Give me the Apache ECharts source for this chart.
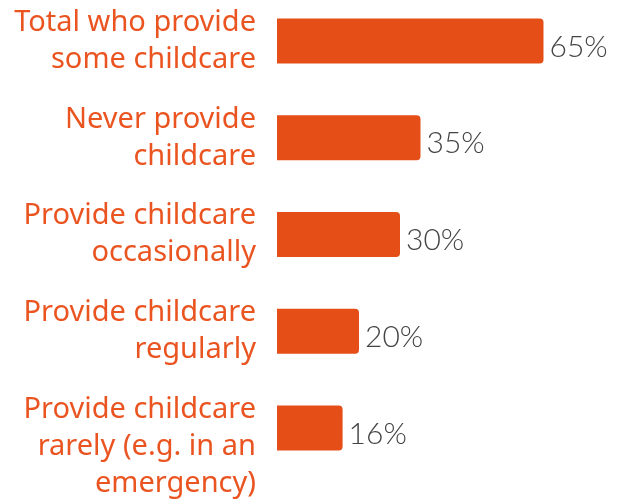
<!DOCTYPE html>
<html>
<head>
<meta charset="utf-8">
<script src="https://cdn.jsdelivr.net/npm/echarts@6/dist/echarts.min.js"></script>
<style>
html,body{margin:0;padding:0;background:#fff;}
#chart{width:621px;height:502px;}
</style>
</head>
<body>
<div id="chart"></div>
<script>
const categories = [
  'Total who provide\nsome childcare',
  'Never provide\nchildcare',
  'Provide childcare\noccasionally',
  'Provide childcare\nregularly',
  'Provide childcare\nrarely (e.g. in an\nemergency)'
];
const values = [65, 35, 30, 20, 16];

const chart = echarts.init(document.getElementById('chart'));
chart.setOption({
  animation: false,
  grid: { left: 277, right: 16, top: 41, bottom: 73, containLabel: false },
  xAxis: {
    type: 'value', min: 0, max: 80, show: false
  },
  yAxis: {
    type: 'category', inverse: true, boundaryGap: false,
    data: categories,
    axisLine: { show: false }, axisTick: { show: false }, splitLine: { show: false },
    axisLabel: {
      interval: 0, hideOverlap: false,
      formatter: (v, i) => (v.split('\n').length > 2 ? '\n' + v : v),
      margin: 21, color: '#EA5420', fontFamily: 'Noto Sans', fontSize: 29, lineHeight: 37, align: 'right'
    }
  },
  series: [{
    type: 'bar', data: values, barWidth: 45,
    itemStyle: { color: '#E54E16', borderRadius: [0, 4, 4, 0] },
    label: {
      show: true, position: 'right', distance: 6, offset: [0, 6],
      formatter: '{c}%', color: '#444', fontFamily: 'Lato', fontWeight: 300, fontSize: 30
    }
  }]
});
</script>
</body>
</html>
